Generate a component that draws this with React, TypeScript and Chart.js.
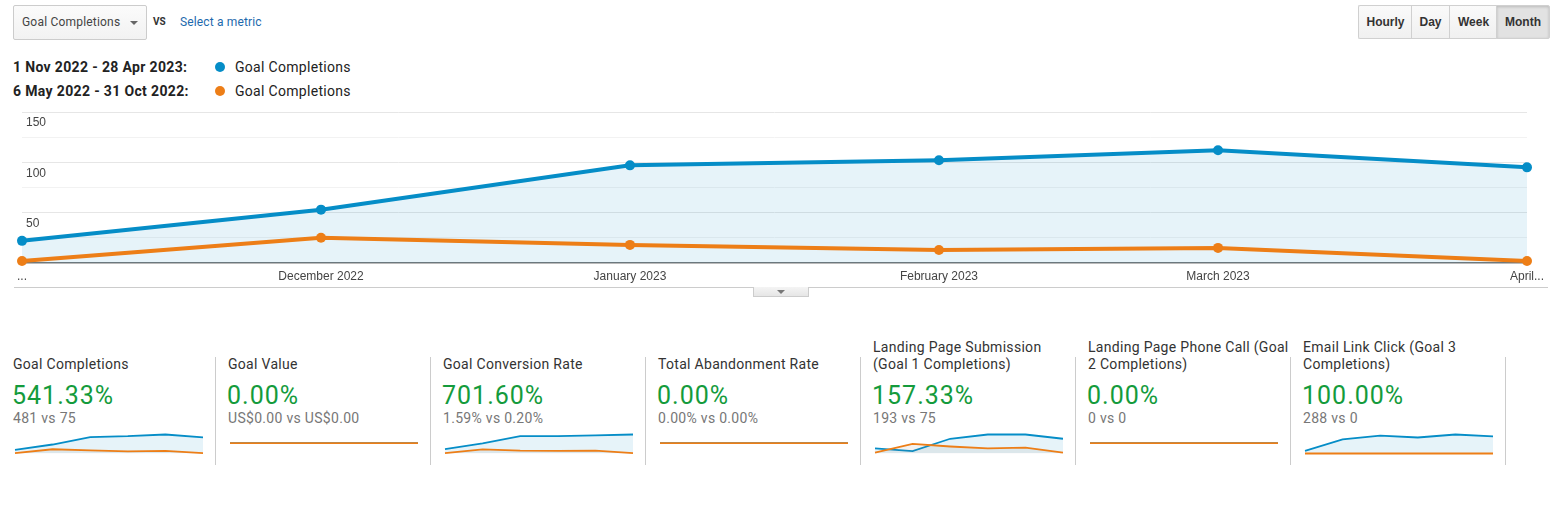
import React, { useEffect, useRef } from "react";
import { Chart, registerables } from "chart.js";

Chart.register(...registerables);

const BLUE = "#058dc7";
const ORANGE = "#ed7e17";
const GREEN = "#149b3c";
const ROBOTO = "Roboto, 'Noto Sans', Arial, sans-serif";
const ARIAL = "'Liberation Sans', Arial, sans-serif";

// ---- main chart data ----
const monthDayOffsets = [0, 30, 61, 92, 120, 151];
const xTickLabels = ["...", "December 2022", "January 2023", "February 2023", "March 2023", "April..."];
const currentGoalCompletions = [22, 53, 97, 102, 112, 95];
const previousGoalCompletions = [2, 25, 18, 13, 15, 2];
const yGridValues = [0, 25, 50, 75, 100, 125, 150];
const yLabelValues = [50, 100, 150];

// ---- scorecard data ----
const metricTitles = [
  ["Goal Completions"],
  ["Goal Value"],
  ["Goal Conversion Rate"],
  ["Total Abandonment Rate"],
  ["Landing Page Submission", "(Goal 1 Completions)"],
  ["Landing Page Phone Call (Goal", "2 Completions)"],
  ["Email Link Click (Goal 3", "Completions)"],
];
const metricChanges = ["541.33%", "0.00%", "701.60%", "0.00%", "157.33%", "0.00%", "100.00%"];
const metricComparisons = [
  "481 vs 75",
  "US$0.00 vs US$0.00",
  "1.59% vs 0.20%",
  "0.00% vs 0.00%",
  "193 vs 75",
  "0 vs 0",
  "288 vs 0",
];
const sparkGoalCompletionsCur = [22, 53, 97, 102, 112, 95];
const sparkGoalCompletionsPrev = [2, 25, 18, 13, 15, 2];
const sparkGoalValueCur = [0, 0, 0, 0, 0, 0];
const sparkGoalValuePrev = [0, 0, 0, 0, 0, 0];
const sparkConvRateCur = [0.46, 1.04, 1.78, 1.78, 1.85, 1.95];
const sparkConvRatePrev = [0.03, 0.43, 0.29, 0.26, 0.29, 0.03];
const sparkAbandonCur = [0, 0, 0, 0, 0, 0];
const sparkAbandonPrev = [0, 0, 0, 0, 0, 0];
const sparkGoal1Cur = [13, 6, 38, 49, 49, 38];
const sparkGoal1Prev = [2, 25, 18, 13, 15, 2];
const sparkGoal2Cur = [0, 0, 0, 0, 0, 0];
const sparkGoal2Prev = [0, 0, 0, 0, 0, 0];
const sparkGoal3Cur = [9, 47, 59, 53, 63, 57];
const sparkGoal3Prev = [0, 0, 0, 0, 0, 0];

const sparkSeries = [
  [sparkGoalCompletionsCur, sparkGoalCompletionsPrev],
  [sparkGoalValueCur, sparkGoalValuePrev],
  [sparkConvRateCur, sparkConvRatePrev],
  [sparkAbandonCur, sparkAbandonPrev],
  [sparkGoal1Cur, sparkGoal1Prev],
  [sparkGoal2Cur, sparkGoal2Prev],
  [sparkGoal3Cur, sparkGoal3Prev],
];

const COL_W = 215;

function T(props: {
  x: number;
  cy: number;
  size: number;
  text: string;
  color?: string;
  weight?: any;
  family?: string;
  ls?: number;
}) {
  const lh = Math.round(props.size * 1.4);
  return (
    <div
      style={{
        position: "absolute",
        left: props.x,
        top: props.cy - lh / 2,
        height: lh,
        lineHeight: lh + "px",
        fontSize: props.size,
        fontFamily: props.family || ROBOTO,
        fontWeight: props.weight || 400,
        letterSpacing: (props.ls || 0) + "px",
        color: props.color || "#333",
        whiteSpace: "nowrap",
      }}
    >
      {props.text}
    </div>
  );
}

function MainChart() {
  const ref = useRef<HTMLCanvasElement>(null);
  useEffect(() => {
    const xLabelPlugin = {
      id: "xLabels",
      afterDraw(chart: any) {
        const c = chart.ctx;
        const xs = chart.scales.x;
        c.save();
        c.font = "12px " + ARIAL;
        c.fillStyle = "#444";
        c.textAlign = "center";
        c.textBaseline = "middle";
        monthDayOffsets.forEach((d, i) => {
          c.fillText(xTickLabels[i], xs.getPixelForValue(d), 176.5);
        });
        c.restore();
      },
    };
    const chart = new Chart(ref.current as HTMLCanvasElement, {
      type: "line",
      data: {
        datasets: [
          {
            label: "6 May 2022 - 31 Oct 2022",
            data: monthDayOffsets.map((d, i) => ({ x: d, y: previousGoalCompletions[i] })),
            borderColor: ORANGE,
            backgroundColor: ORANGE,
            pointBackgroundColor: ORANGE,
            borderWidth: 4,
            pointRadius: 5,
            pointBorderWidth: 0,
            fill: false,
            clip: false,
            tension: 0,
          },
          {
            label: "1 Nov 2022 - 28 Apr 2023",
            data: monthDayOffsets.map((d, i) => ({ x: d, y: currentGoalCompletions[i] })),
            borderColor: BLUE,
            backgroundColor: "rgba(5,141,199,0.1)",
            pointBackgroundColor: BLUE,
            borderWidth: 4,
            pointRadius: 5,
            pointBorderWidth: 0,
            fill: "origin",
            clip: false,
            tension: 0,
          },
        ] as any,
      },
      options: {
        animation: false,
        responsive: false,
        maintainAspectRatio: false,
        layout: { padding: { left: 14, right: 37, top: 12, bottom: 37 } },
        plugins: { legend: { display: false }, tooltip: { enabled: false } },
        scales: {
          x: { type: "linear", min: 0, max: monthDayOffsets[monthDayOffsets.length - 1], display: false },
          y: {
            min: 0,
            max: 150,
            afterBuildTicks: (s: any) => {
              s.ticks = yGridValues.map((v) => ({ value: v }));
            },
            border: { display: false },
            grid: {
              drawTicks: false,
              color: (ctx: any) => {
                const v = ctx.tick ? ctx.tick.value : 1;
                if (v === 0) return "#777";
                return v % 50 === 0 ? "#e6e6e6" : "#f2f2f2";
              },
              lineWidth: (ctx: any) => (ctx.tick && ctx.tick.value === 0 ? 1.5 : 1),
            },
            ticks: {
              mirror: true,
              padding: 4,
              labelOffset: 11,
              color: "#444",
              font: { family: ARIAL, size: 12 },
              callback: (v: any) => (yLabelValues.indexOf(Number(v)) >= 0 ? String(v) : ""),
            },
          },
        } as any,
      },
      plugins: [xLabelPlugin],
    });
    return () => chart.destroy();
  }, []);
  return (
    <canvas
      ref={ref}
      width={1564}
      height={200}
      style={{ position: "absolute", left: 0, top: 100, width: 1564, height: 200 }}
    />
  );
}

function Spark(props: { left: number; cur: number[]; prev: number[] }) {
  const ref = useRef<HTMLCanvasElement>(null);
  useEffect(() => {
    const mx = Math.max(...props.cur, ...props.prev);
    const flat = mx === 0;
    const idx = props.cur.map((_, i) => i);
    const chart = new Chart(ref.current as HTMLCanvasElement, {
      type: "line",
      data: {
        datasets: [
          {
            data: idx.map((i) => ({ x: i, y: props.prev[i] })),
            borderColor: ORANGE,
            backgroundColor: "rgba(140,130,120,0.10)",
            borderWidth: 1.8,
            pointRadius: 0,
            fill: flat ? false : "origin",
            clip: false,
            tension: 0,
          },
          {
            data: idx.map((i) => ({ x: i, y: props.cur[i] })),
            borderColor: BLUE,
            backgroundColor: "rgba(5,141,199,0.1)",
            borderWidth: 1.8,
            pointRadius: 0,
            fill: flat ? false : "origin",
            clip: false,
            tension: 0,
          },
        ] as any,
      },
      options: {
        animation: false,
        responsive: false,
        maintainAspectRatio: false,
        layout: { padding: { left: 5, right: 5, top: 6.5, bottom: 6.5 } },
        plugins: { legend: { display: false }, tooltip: { enabled: false } },
        scales: {
          x: { type: "linear", min: 0, max: idx.length - 1, display: false },
          y: { min: flat ? -1.1 : 0, max: flat ? 0.9 : mx, display: false },
        } as any,
      },
    });
    return () => chart.destroy();
  }, []);
  return (
    <canvas
      ref={ref}
      width={198}
      height={32}
      style={{ position: "absolute", left: props.left + 10, top: 428, width: 198, height: 32 }}
    />
  );
}

const btn = (left: number, width: number, label: string, active: boolean) => (
  <div
    key={label}
    style={{
      position: "absolute",
      left,
      top: 5,
      width,
      height: 34,
      boxSizing: "border-box",
      borderTop: "1px solid #d0d0d0",
      borderBottom: "1px solid #d0d0d0",
      borderLeft: "1px solid #d0d0d0",
      borderRight: label === "Month" ? "1px solid #d0d0d0" : "none",
      borderRadius: label === "Hourly" ? "2px 0 0 2px" : label === "Month" ? "0 2px 2px 0" : 0,
      background: active ? "#e2e2e2" : "linear-gradient(#fafafa, #f0f0f0)",
      boxShadow: active ? "inset 0 1px 3px rgba(0,0,0,0.18)" : "none",
      display: "flex",
      alignItems: "center",
      justifyContent: "center",
      fontFamily: ARIAL,
      fontWeight: 700,
      fontSize: 12,
      color: "#333",
    }}
  >
    {label}
  </div>
);

export default function App() {
  return (
    <div
      style={{
        position: "absolute",
        left: 0,
        top: 0,
        width: 1564,
        height: 507,
        overflow: "hidden",
        background: "#fff",
      }}
    >
      {/* metric dropdown */}
      <div
        style={{
          position: "absolute",
          left: 13,
          top: 5,
          width: 134,
          height: 35,
          boxSizing: "border-box",
          border: "1px solid #ccc",
          borderRadius: 2,
          background: "linear-gradient(#fbfbfb, #f2f2f2)",
        }}
      />
      <T x={22} cy={22.5} size={12} text="Goal Completions" color="#444" ls={0.2} />
      <div
        style={{
          position: "absolute",
          left: 130,
          top: 21,
          width: 0,
          height: 0,
          borderLeft: "4px solid transparent",
          borderRight: "4px solid transparent",
          borderTop: "4px solid #666",
        }}
      />
      <T x={153} cy={21.5} size={10} text="VS" color="#333" weight={700} />
      <T x={180} cy={22.5} size={12} text="Select a metric" color="#1d69ad" ls={0.15} />

      {btn(1358, 54, "Hourly", false)}
      {btn(1411, 38, "Day", false)}
      {btn(1449, 48, "Week", false)}
      {btn(1496, 54, "Month", true)}

      {/* legend */}
      <T x={13} cy={67} size={14} text="1 Nov 2022 - 28 Apr 2023:" color="#222" weight={700} ls={0.35} />
      <div style={{ position: "absolute", left: 215, top: 62, width: 10, height: 10, borderRadius: 5, background: BLUE }} />
      <T x={235} cy={67} size={14} text="Goal Completions" color="#222" ls={0.3} />
      <T x={13} cy={91} size={14} text="6 May 2022 - 31 Oct 2022:" color="#222" weight={700} ls={0.35} />
      <div style={{ position: "absolute", left: 215, top: 86, width: 10, height: 10, borderRadius: 5, background: ORANGE }} />
      <T x={235} cy={91} size={14} text="Goal Completions" color="#222" ls={0.3} />

      <MainChart />

      {/* divider under chart with toggle tab */}
      <div style={{ position: "absolute", left: 14, top: 287, width: 1534, height: 1, background: "#ccc" }} />
      <div
        style={{
          position: "absolute",
          left: 753,
          top: 287,
          width: 56,
          height: 10,
          boxSizing: "border-box",
          border: "1px solid #ccc",
          borderTop: "none",
          background: "linear-gradient(#f4f4f4, #e6e6e6)",
        }}
      />
      <div
        style={{
          position: "absolute",
          left: 777,
          top: 290,
          width: 0,
          height: 0,
          borderLeft: "4px solid transparent",
          borderRight: "4px solid transparent",
          borderTop: "4px solid #777",
        }}
      />

      {/* scorecards */}
      {metricTitles.map((lines, i) => {
        const left = i * COL_W;
        return (
          <React.Fragment key={i}>
            {lines.map((ln, j) => (
              <T
                key={j}
                x={left + 13}
                cy={364 - (lines.length - 1 - j) * 17}
                size={14}
                text={ln}
                color="#333"
                ls={0.3}
              />
            ))}
            <T x={left + 12} cy={395} size={25} text={metricChanges[i]} color={GREEN} ls={1} />
            <T x={left + 13} cy={417.5} size={14} text={metricComparisons[i]} color="#777" ls={0.3} />
            <Spark left={left} cur={sparkSeries[i][0]} prev={sparkSeries[i][1]} />
            <div
              style={{
                position: "absolute",
                left: left + COL_W,
                top: 357,
                width: 1,
                height: 108,
                background: "#ccc",
              }}
            />
          </React.Fragment>
        );
      })}
    </div>
  );
}
